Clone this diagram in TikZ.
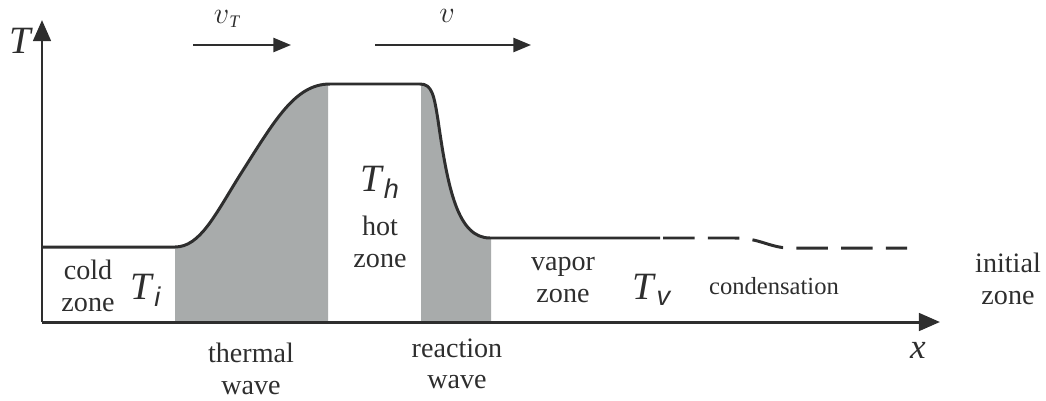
\documentclass[tikz,border=0pt]{standalone}
\usepackage{fontspec}
\setmainfont{Liberation Serif}
\setsansfont{Liberation Sans}
\usetikzlibrary{arrows.meta}

\definecolor{wavegray}{HTML}{A8ABAB}
\definecolor{inkgray}{HTML}{2E2E2E}

\tikzset{
  zone/.style={align=center, font=\fontsize{16}{18}\selectfont, text=inkgray, inner sep=0pt},
  temp/.style={font=\fontsize{22}{24}\selectfont, text=inkgray, inner sep=0pt},
  speedlab/.style={font=\fontsize{19}{21}\selectfont, text=inkgray, inner sep=0pt, text height=1.1ex, text depth=0pt},
  axis/.style={line width=1.7pt, draw=inkgray, -{Triangle[length=12pt,width=10pt]}},
  speed/.style={line width=1.2pt, draw=inkgray, -{Triangle[length=10pt,width=8pt]}},
  profile/.style={line width=1.7pt, draw=inkgray, line join=round}
}
\newcommand{\tsub}[2]{\textit{#1}\textsubscript{\sffamily\itshape #2}}

\begin{document}
\begin{tikzpicture}[x=0.02cm, y=-0.02cm]
\useasboundingbox (0,0) rectangle (1046,400);

% shaded waves under the profile
\begin{scope}
  \clip (175,0) rectangle (328,322) (421,0) rectangle (491,322);
  \fill[wavegray] (42,247) -- (175,247) .. controls (200,247) and (215,215) .. (240,175)
    .. controls (275,120) and (295,84) .. (330,84) -- (420,84)
    .. controls (432,84) and (434,95) .. (438,120)
    .. controls (448,190) and (458,238) .. (490,238) -- (660,238) -- (660,322) -- (42,322) -- cycle;
\end{scope}

% temperature profile
\draw[profile] (42,247) -- (175,247) .. controls (200,247) and (215,215) .. (240,175)
  .. controls (275,120) and (295,84) .. (330,84) -- (420,84)
  .. controls (432,84) and (434,95) .. (438,120)
  .. controls (448,190) and (458,238) .. (490,238) -- (660,238);
\draw[profile, dash pattern=on 18pt off 7.5pt] (663,238) -- (735,238)
  .. controls (760,238) and (770,248) .. (790,248) -- (907,248);

% axes
\coordinate (origin) at (42,322);
\coordinate (ytip) at (42,20);
\coordinate (xtip) at (940,322);
\draw[axis] (origin) -- (ytip);
\draw[axis] (origin) -- (xtip);
\node[temp] (ylab) at (21,41) {\textit{T}};
\node[temp, font=\fontsize{20}{22}\selectfont] (xlab) at (918,350) {\textit{x}};

% velocities
\coordinate (vTa) at (193,45);
\coordinate (vTb) at (291,45);
\coordinate (va) at (375,45);
\coordinate (vb) at (531,45);
\draw[speed] (vTa) -- (vTb);
\draw[speed] (va) -- (vb);
\node[speedlab] (vTlab) at (227,19) {$v$\textsubscript{\fontsize{10}{10}\selectfont\itshape T}};
\node[speedlab] (vlab) at (447,18) {$v$};

% zones
\node[zone] (cold) at (88,286) {cold\\zone};
\node[temp] (Ti) at (146,290) {\tsub{T}{i}};
\node[temp] (Th) at (380,182) {\tsub{T}{h}};
\node[zone] (hot) at (380,242) {hot\\zone};
\node[zone] (vapor) at (563,280) {vapor\\zone};
\node[temp] (Tv) at (652,290) {\tsub{T}{v}};
\node[zone, font=\fontsize{14}{16}\selectfont] (cond) at (774,286) {condensation};
\node[zone] (init) at (1008,279) {initial\\zone};
\node[zone] (thermal) at (251,369) {thermal\\wave};
\node[zone] (reaction) at (457,364) {reaction\\wave};
\end{tikzpicture}
\end{document}
